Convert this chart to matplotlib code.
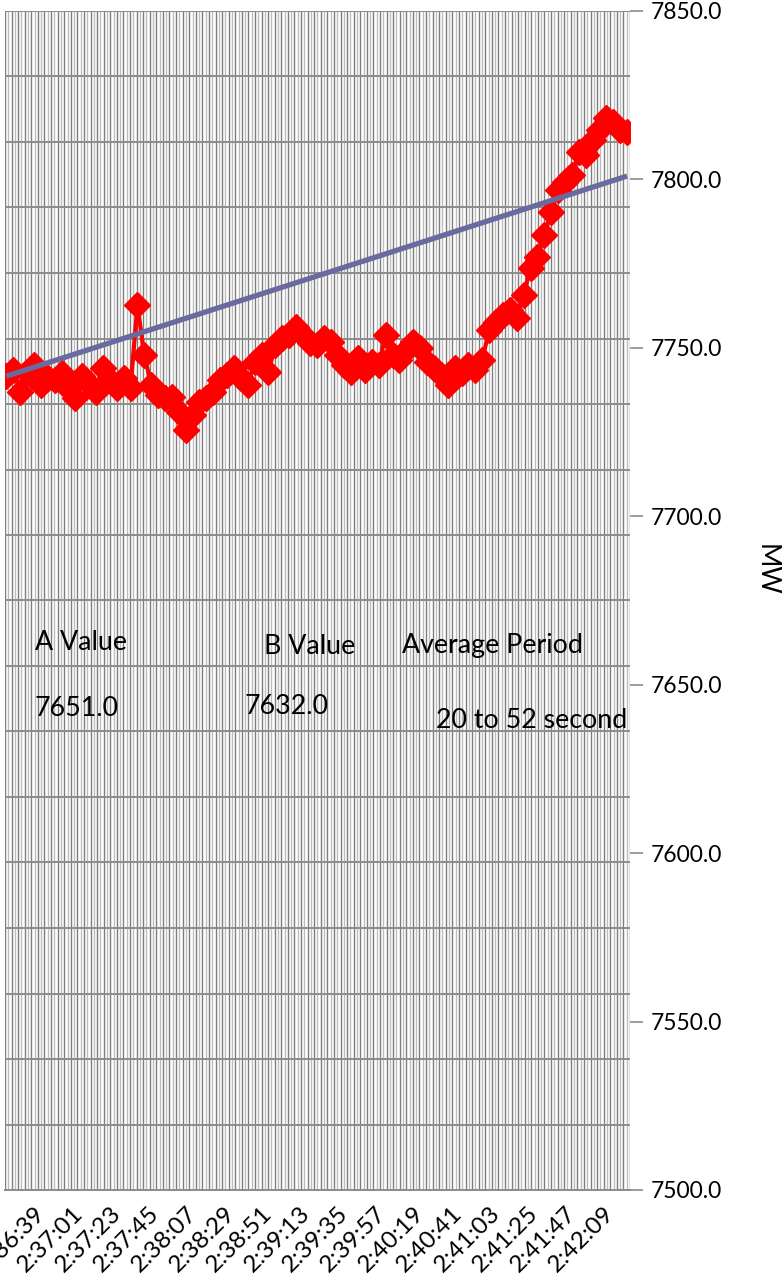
import numpy as np
import matplotlib
matplotlib.use("Agg")
import matplotlib.pyplot as plt

plt.rcParams['font.family'] = ['Lato', 'DejaVu Sans']

# ---- data ----
t_start = -16          # seconds relative to 2:36:39 (first sample 2:36:23)
t_step = 4
mw = [7741.6, 7743.4, 7736.9, 7742.8, 7744.9, 7739.0, 7741.0, 7740.5, 7742.5, 7738.0,
      7735.0, 7741.6, 7739.3, 7736.9, 7744.0, 7740.5, 7738.0, 7741.0, 7738.0, 7762.7,
      7747.9, 7739.0, 7736.0, 7735.1, 7735.4, 7731.0, 7725.6, 7730.0, 7733.9, 7735.1,
      7736.9, 7740.5, 7742.0, 7744.0, 7741.0, 7739.0, 7745.8, 7747.9, 7742.8, 7750.8,
      7752.9, 7753.8, 7756.2, 7753.8, 7751.4, 7750.8, 7752.9, 7751.7, 7747.9, 7744.9,
      7742.8, 7747.0, 7743.4, 7745.8, 7744.9, 7753.8, 7747.9, 7746.4, 7749.4, 7751.7,
      7750.0, 7745.8, 7744.0, 7742.0, 7739.0, 7744.0, 7742.5, 7744.9, 7743.4, 7746.4,
      7755.3, 7757.7, 7759.8, 7761.2, 7758.9, 7765.7, 7773.7, 7777.0, 7783.5, 7790.3,
      7796.9, 7799.2, 7801.3, 7808.1, 7807.2, 7811.7, 7814.7, 7818.2, 7817.0, 7814.7,
      7814.1]
times = t_start + t_step * np.arange(len(mw))

trend_vals = [7741.6, 7801.0]   # linear trendline at first / last sample

tick_labels = ['2:36:39', '2:37:01', '2:37:23', '2:37:45', '2:38:07', '2:38:29',
               '2:38:51', '2:39:13', '2:39:35', '2:39:57', '2:40:19', '2:40:41',
               '2:41:03', '2:41:25', '2:41:47', '2:42:09']
tick_pos = [22 * i for i in range(len(tick_labels))]

y_ticks = [7500, 7550, 7600, 7650, 7700, 7750, 7800, 7850]

cells = [("A Value", 35, 643), ("B Value", 264, 646), ("Average Period", 402, 646),
         ("7651.0", 35, 709), ("7632.0", 244, 707), ("20 to 52 second", 436, 720)]

# ---- figure ----
W, H = 784, 1280
fig = plt.figure(figsize=(W / 100, H / 100), dpi=100)
ax = fig.add_axes([5 / W, 90 / H, 625 / W, 1179 / H])

xmin, xmax = -16.8, 345.7
ax.set_xlim(xmin, xmax)
ax.set_ylim(7500, 7850)

# spreadsheet-like background lines
vx = np.linspace(xmin, xmax, 191)
for i, x in enumerate(vx):
    ax.axvline(x, color='#7d7d7d' if i % 2 == 0 else '#bdbdbd', lw=1.0, zorder=0)
for y in np.linspace(7500, 7850, 19):
    ax.axhline(y, color='#8c8c8c', lw=1.4, zorder=0.5)

ax.plot(times, mw, color='#ff0000', lw=3.0, marker='D', ms=13,
        markeredgecolor='#ff0000', zorder=3)
ax.plot([times[0], times[-1]], trend_vals, color='#6a6aa0', lw=3.8, zorder=4,
        solid_capstyle='butt')

for s in ['left', 'top', 'right']:
    ax.spines[s].set_visible(False)
ax.spines['bottom'].set_color('#8c8c8c')
ax.spines['bottom'].set_linewidth(1.4)

ax.yaxis.tick_right()
ax.set_yticks(y_ticks)
ax.set_yticklabels([f"{v:.1f}" for v in y_ticks], fontsize=16.5)
ax.tick_params(axis='y', length=9, width=1.2, color='#8c8c8c', pad=6)

ax.set_xticks(tick_pos)
ax.set_xticklabels(tick_labels, fontsize=17.5, rotation=45, ha='right',
                   va='top', rotation_mode='anchor')
ax.tick_params(axis='x', length=0, pad=9)

fig.text(766 / W, 1 - 570 / H, "MW", rotation=270, fontsize=19,
         ha='center', va='center')

for txt, x, y in cells:
    fig.text(x / W, 1 - y / H, txt, fontsize=19.3, ha='left', va='center')

fig.savefig("out.png", dpi=100)
